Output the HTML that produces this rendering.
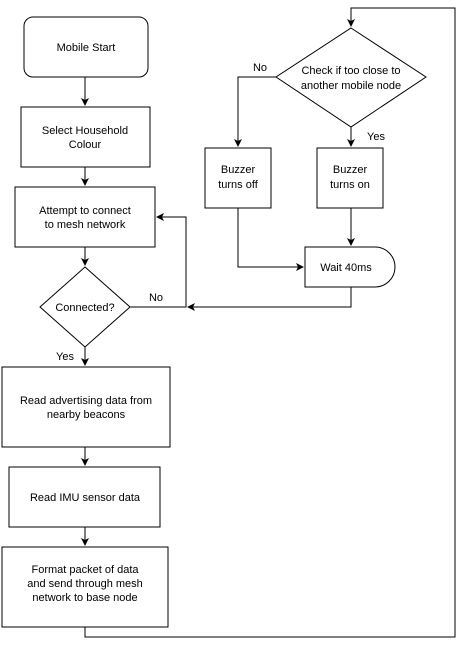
<!DOCTYPE html>
<html><head><style>
html,body{margin:0;padding:0;background:#fff;}
svg{display:block;}
text{font-family:"Liberation Sans",Arial,sans-serif;font-size:11px;fill:#000;}
</style></head><body>
<svg width="464" height="646" viewBox="0 0 464 646" xmlns="http://www.w3.org/2000/svg">
<defs><marker id="a" markerWidth="8" markerHeight="8" refX="7" refY="4" orient="auto" markerUnits="userSpaceOnUse"><path d="M0,0 L8,4 L0,8 L2,4 z" fill="#000"/></marker></defs>
<g fill="none" stroke="#000" stroke-width="1">
<rect x="24" y="17" width="124" height="60" rx="9"/>
<rect x="21" y="107" width="129" height="60"/>
<rect x="15" y="187" width="140" height="60"/>
<path d="M85,267 L130,307 L85,347 L40,307 Z"/>
<rect x="2" y="367" width="168" height="80"/>
<rect x="9" y="467" width="151" height="60"/>
<rect x="2" y="547" width="166" height="80"/>
<path d="M351,28 L426,77 L351,127 L276,77 Z"/>
<rect x="205" y="148" width="66" height="60"/>
<rect x="317" y="148" width="66" height="60"/>
<path d="M305,247 H375 A20,20 0 0 1 375,287 H305 Z"/>
<path d="M85,77 V105" marker-end="url(#a)"/>
<path d="M85,167 V185" marker-end="url(#a)"/>
<path d="M85,247 V265" marker-end="url(#a)"/>
<path d="M85,347 V365" marker-end="url(#a)"/>
<path d="M85,447 V465" marker-end="url(#a)"/>
<path d="M85,527 V545" marker-end="url(#a)"/>
<path d="M85,627 V637 H455 V8 H351 V26" marker-end="url(#a)"/>
<path d="M276,77 H238 V146" marker-end="url(#a)"/>
<path d="M351,127 V146" marker-end="url(#a)"/>
<path d="M238,208 V267 H303" marker-end="url(#a)"/>
<path d="M351,208 V245" marker-end="url(#a)"/>
<path d="M351,287 V307 H188" marker-end="url(#a)"/>
<path d="M130,307 H186 V217 H157" marker-end="url(#a)"/>
</g>
<g text-anchor="middle">
<text x="86" y="51">Mobile Start</text>
<text x="85" y="134">Select Household</text>
<text x="85" y="148">Colour</text>
<text x="85" y="214">Attempt to connect</text>
<text x="85" y="228">to mesh network</text>
<text x="85" y="311">Connected?</text>
<text x="86" y="404">Read advertising data from</text>
<text x="86" y="418">nearby beacons</text>
<text x="85" y="501">Read IMU sensor data</text>
<text x="85" y="573">Format packet of data</text>
<text x="85" y="587">and send through mesh</text>
<text x="85" y="601">network to base node</text>
<text x="351" y="74">Check if too close to</text>
<text x="351" y="89">another mobile node</text>
<text x="238" y="173">Buzzer</text>
<text x="238" y="188">turns off</text>
<text x="350" y="173">Buzzer</text>
<text x="350" y="188">turns on</text>
<text x="346" y="271">Wait 40ms</text>
<text x="260" y="71">No</text>
<text x="376" y="140">Yes</text>
<text x="65" y="360">Yes</text>
<text x="156" y="301">No</text>
</g>
</svg>
</body></html>
